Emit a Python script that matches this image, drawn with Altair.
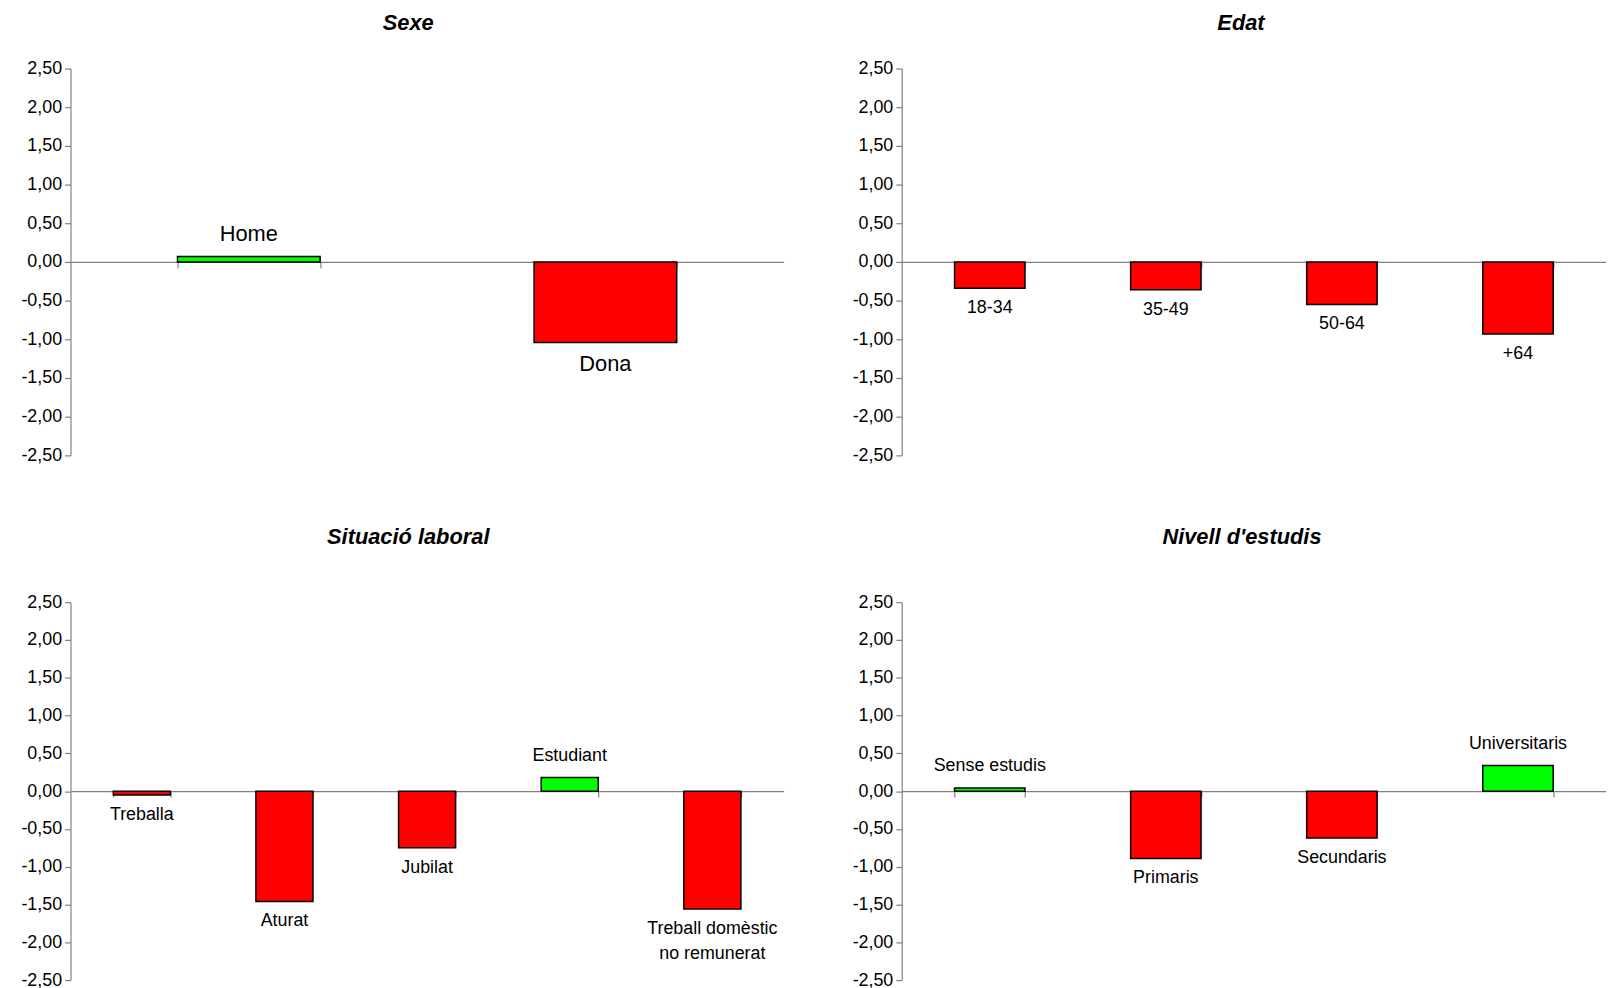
import altair as alt
import pandas as pd

# ---- data ----
sexe_cats = ["Home", "Dona"]
sexe_vals = [0.07, -1.04]
sexe_labels = ["Home", "Dona"]

edat_cats = ["18-34", "35-49", "50-64", "+64"]
edat_vals = [-0.34, -0.36, -0.55, -0.93]
edat_labels = ["18-34", "35-49", "50-64", "+64"]

sit_cats = ["Treballa", "Aturat", "Jubilat", "Estudiant", "Treball domèstic no remunerat"]
sit_vals = [-0.05, -1.46, -0.75, 0.18, -1.56]
sit_labels = ["Treballa", "Aturat", "Jubilat", "Estudiant", "Treball domèstic\nno remunerat"]

niv_cats = ["Sense estudis", "Primaris", "Secundaris", "Universitaris"]
niv_vals = [0.04, -0.89, -0.62, 0.34]
niv_labels = ["Sense estudis", "Primaris", "Secundaris", "Universitaris"]

y_ticks = [2.5, 2.0, 1.5, 1.0, 0.5, 0.0, -0.5, -1.0, -1.5, -2.0, -2.5]

FONT = "Liberation Sans"
AXIS_GREY = "#808080"


def panel(title, cats, vals, labels, width, height, fs, title_offset, title_dx, dneg, dpos):
    df = pd.DataFrame({"cat": cats, "val": vals, "label": labels})
    df["sign"] = ["pos" if v >= 0 else "neg" for v in vals]

    base = alt.Chart(df).encode(
        x=alt.X(
            "cat:N",
            sort=cats,
            scale=alt.Scale(paddingInner=0.6, paddingOuter=0.3),
            axis=alt.Axis(
                title=None, labels=False, orient="bottom", offset=-height / 2,
                tickBand="extent", tickSize=6, domainColor=AXIS_GREY,
                tickColor=AXIS_GREY, domainWidth=1.2, tickWidth=1.2,
            ),
        ),
        y=alt.Y(
            "val:Q",
            scale=alt.Scale(domain=[-2.5, 2.5], nice=False),
            axis=alt.Axis(
                title=None, values=y_ticks, grid=False,
                labelExpr="(datum.value < 0 ? '-' : '') + replace(format(abs(datum.value), '.2f'), '.', ',')",
                labelFont=FONT, labelFontSize=18, labelColor="black",
                labelPadding=3, tickSize=6, domainColor=AXIS_GREY,
                tickColor=AXIS_GREY, domainWidth=1.2, tickWidth=1.2,
            ),
        ),
    )

    bars = base.mark_bar(stroke="black", strokeWidth=1.5).encode(
        color=alt.Color(
            "sign:N",
            scale=alt.Scale(domain=["pos", "neg"], range=["#00FF00", "#FF0000"]),
            legend=None,
        )
    )

    txt_neg = base.transform_filter("datum.val < 0").mark_text(
        baseline="top", align="center", font=FONT, fontSize=fs, color="black",
        dy=round(dneg - 0.432 * fs), lineBreak="\n", lineHeight=25,
    ).encode(text="label:N")

    txt_pos = base.transform_filter("datum.val >= 0").mark_text(
        baseline="bottom", align="center", font=FONT, fontSize=fs, color="black",
        dy=round(0.568 * fs - dpos), lineBreak="\n", lineHeight=25,
    ).encode(text="label:N")

    return alt.layer(bars, txt_pos, txt_neg).properties(
        width=width,
        height=height,
        title=alt.TitleParams(
            text=title, font=FONT, fontSize=22, fontStyle="italic",
            fontWeight="bold", color="black", offset=title_offset,
            anchor="middle", dx=title_dx,
        ),
    )


H1 = 390
H2 = 381
WL = 719
WR = 710

p1 = panel("Sexe", sexe_cats, sexe_vals, sexe_labels, WL, H1, 22, 25, -19, 21.5, 23)
p2 = panel("Edat", edat_cats, edat_vals, edat_labels, WR, H1, 18, 25, -13, 18.5, 23)
p3 = panel("Situació laboral", sit_cats, sit_vals, sit_labels, WL, H2, 18, 45, -19, 18.5, 23)
p4 = panel("Nivell d'estudis", niv_cats, niv_vals, niv_labels, WR, H2, 18, 45, -12, 18.5, 23)

row1 = alt.hconcat(p1, p2, spacing=68)
row2 = alt.hconcat(p3, p4, spacing=68)

chart = (
    alt.vconcat(row1, row2, spacing=62)
    .properties(padding={"left": 12, "top": 0, "right": 0, "bottom": 0})
    .configure(background="white")
    .configure_view(stroke=None)
)

chart.save("out.html", embed_options={"renderer": "svg", "actions": False})
